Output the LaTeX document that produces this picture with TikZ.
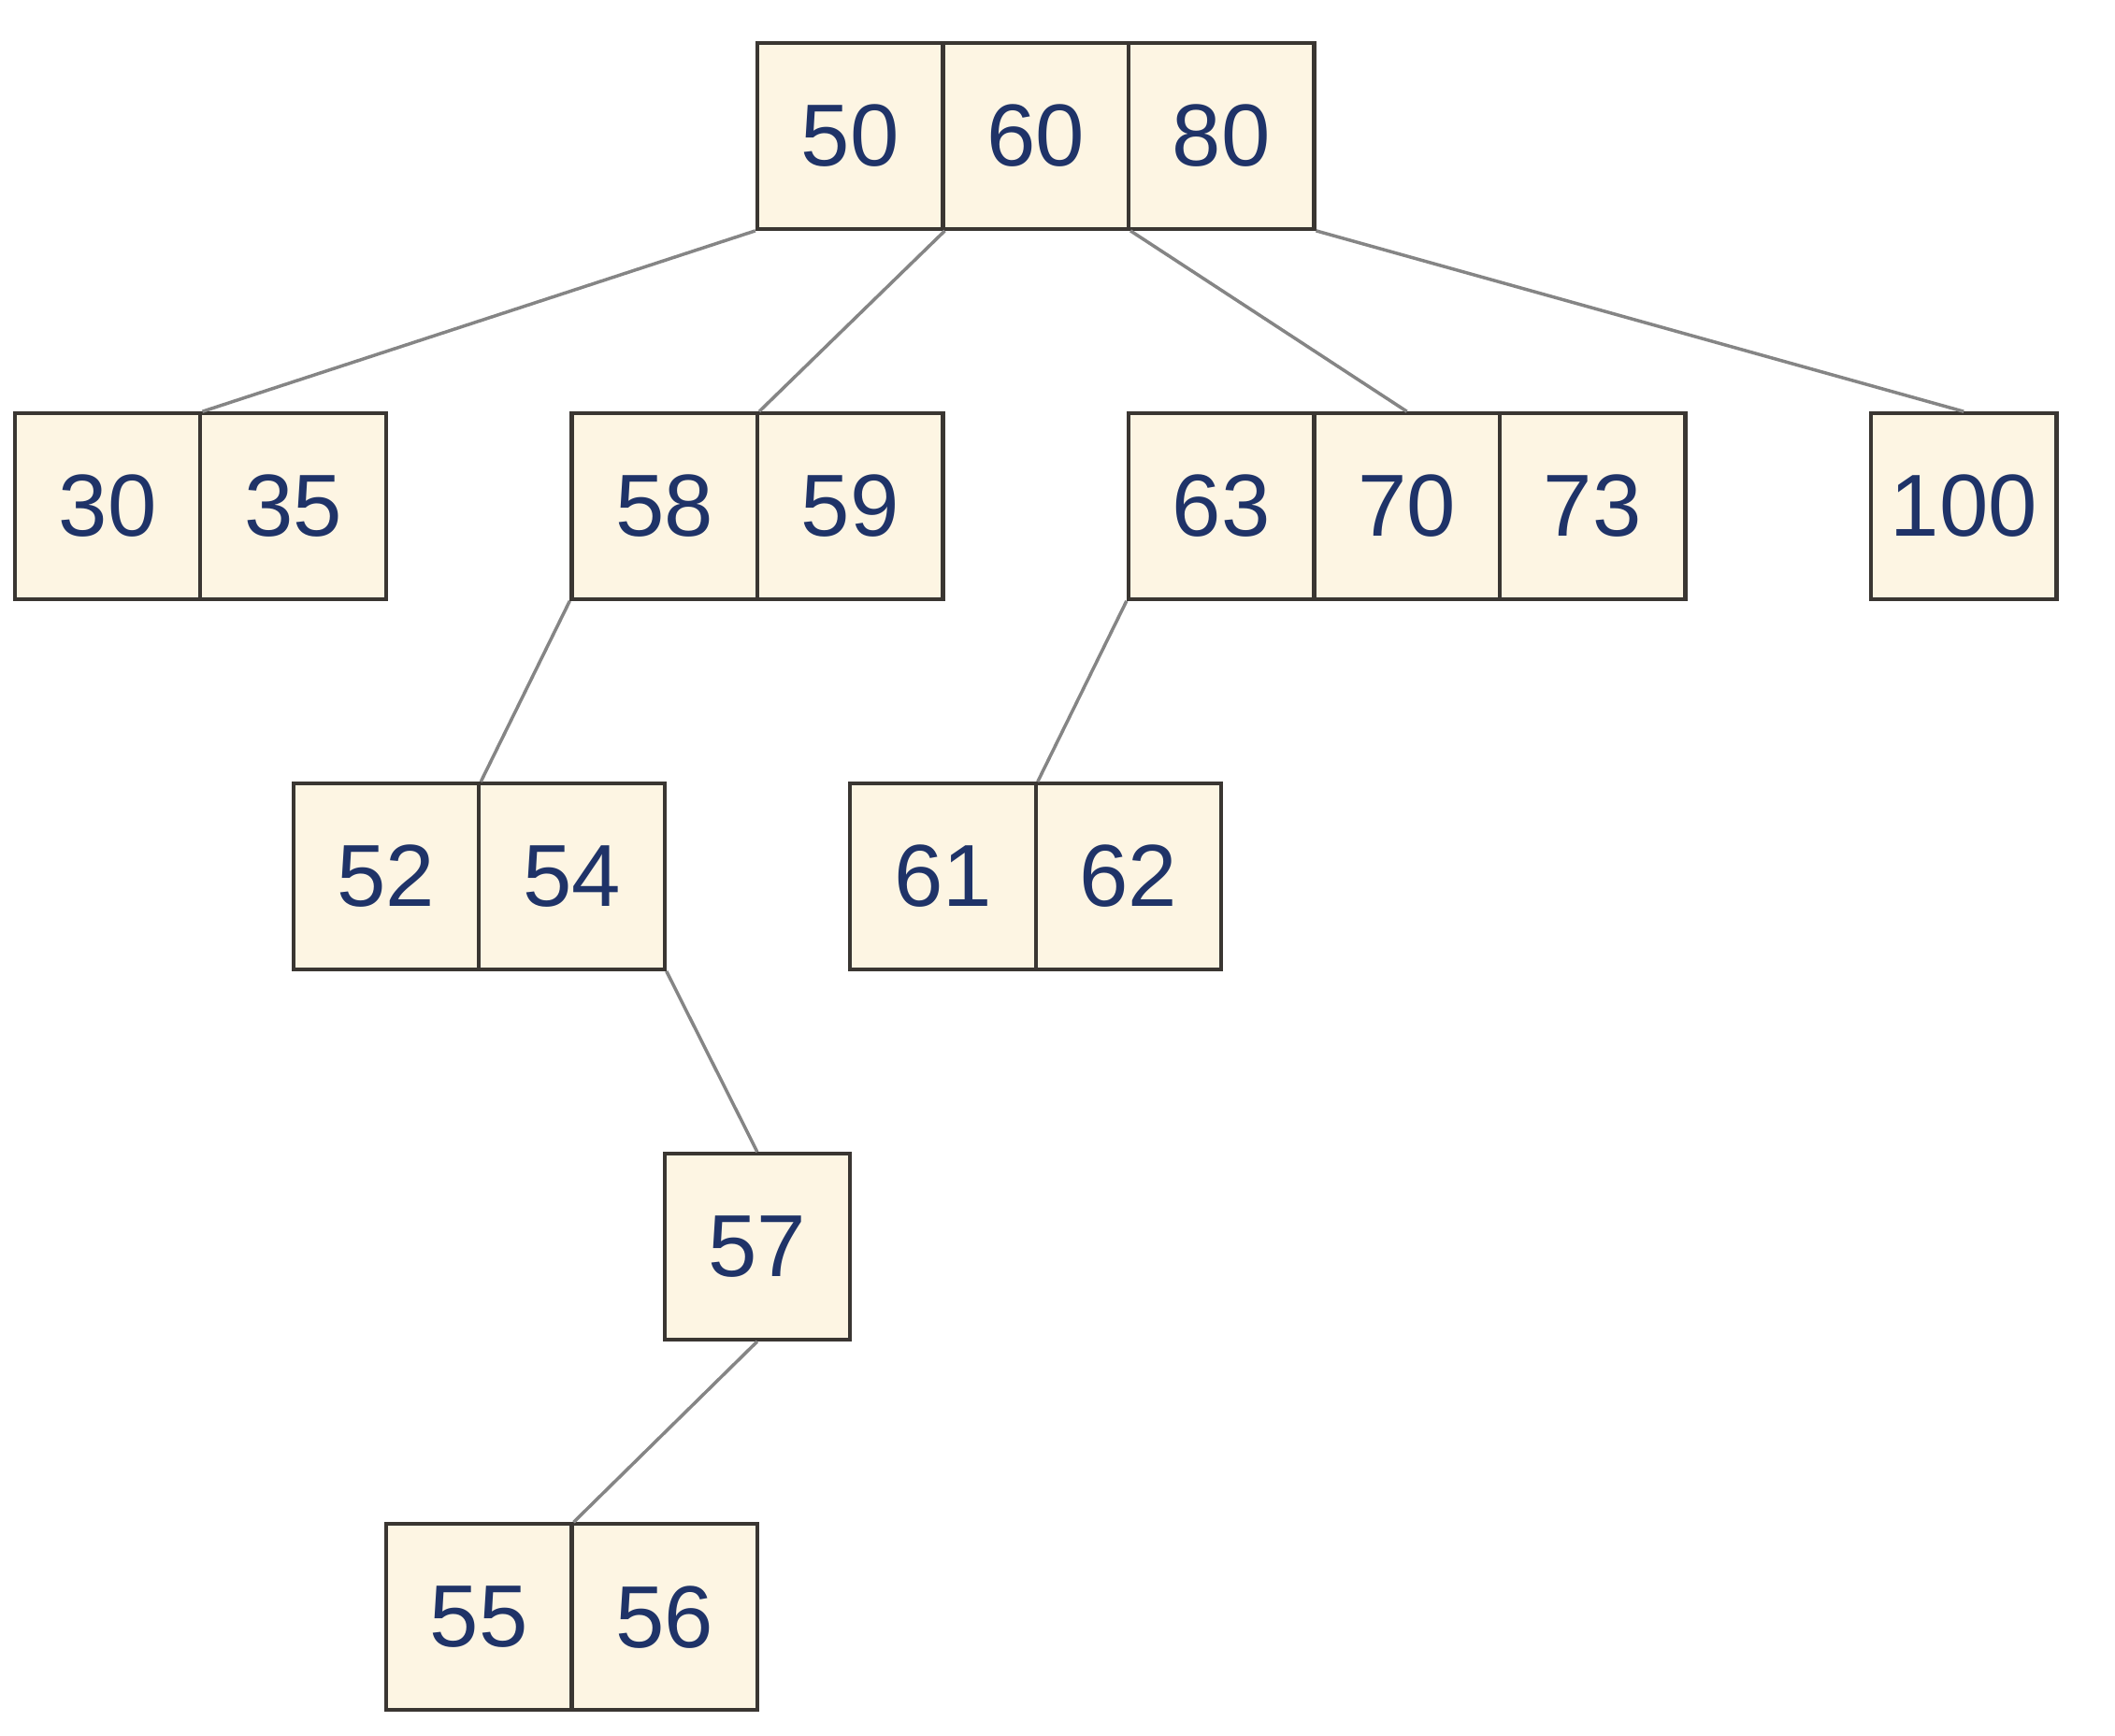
\documentclass[tikz,border=0pt]{standalone}
\usepackage{fontspec}
\setmainfont{Liberation Sans}
\usepackage{xcolor}
\usepackage{tikz}

\definecolor{keyfill}{HTML}{FDF5E3}
\definecolor{keyline}{HTML}{3A3632}
\definecolor{keytext}{HTML}{1F3368}
\definecolor{linkgray}{HTML}{858585}

\tikzset{
  key/.style={draw=keyline, line width=0.6pt, fill=keyfill, text=keytext,
    minimum size=1cm, inner sep=0pt, font=\fontsize{13.5}{16}\selectfont},
  link/.style={draw=linkgray, line width=0.5pt}
}

\begin{document}
\begin{tikzpicture}
        \useasboundingbox[fill=white] (0,0) rectangle (11.395,-9.35);

        % Root
        \node[key] (n50) at (4.58,-0.733) {50};
        \node[key] (n60) at (5.58,-0.733) {60};
        \node[key] (n80) at (6.58,-0.733) {80};

        % Second level
        \node[key] (n30) at (0.58,-2.728) {30};
        \node[key] (n35) at (1.58,-2.728) {35};
        \node[key] (n58) at (3.58,-2.728) {58};
        \node[key] (n59) at (4.58,-2.728) {59};
        \node[key] (n63) at (6.58,-2.728) {63};
        \node[key] (n70) at (7.58,-2.728) {70};
        \node[key] (n73) at (8.58,-2.728) {73};
        \node[key] (n100) at (10.58,-2.728) {100};

        % Third level
        \node[key] (n52) at (2.08,-4.723) {52};
        \node[key] (n54) at (3.08,-4.723) {54};
        \node[key] (n61) at (5.08,-4.723) {61};
        \node[key] (n62) at (6.08,-4.723) {62};

        % Fourth level
        \node[key] (n57) at (4.08,-6.718) {57};

        % Fifth level
        \node[key] (n55) at (2.58,-8.713) {55};
        \node[key] (n56) at (3.58,-8.713) {56};

        % Links
        \draw[link] (n50.south west) -- (n30.north east);
        \draw[link] (n50.south east) -- (n58.north east);
        \draw[link] (n60.south east) -- (n70.north);
        \draw[link] (n80.south east) -- (n100.north);
        \draw[link] (n58.south west) -- (n52.north east);
        \draw[link] (n63.south west) -- (n61.north east);
        \draw[link] (n54.south east) -- (n57.north);
        \draw[link] (n57.south) -- (n55.north east);
    \end{tikzpicture}
\end{document}
